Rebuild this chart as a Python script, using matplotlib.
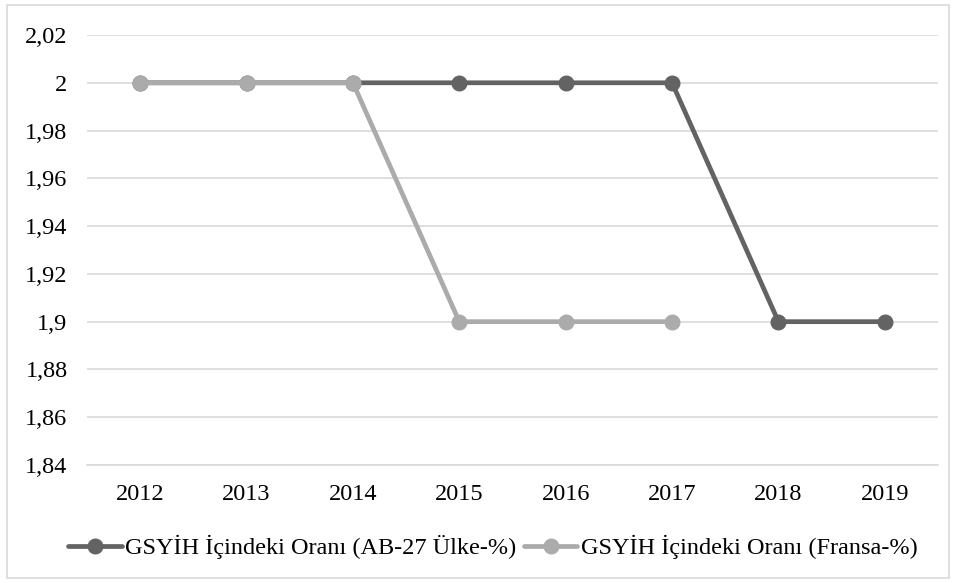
import matplotlib
matplotlib.use("Agg")
import matplotlib.pyplot as plt
from matplotlib.ticker import FuncFormatter, MultipleLocator
from matplotlib.patches import Rectangle

years = ["2012", "2013", "2014", "2015", "2016", "2017", "2018", "2019"]
ab27 = [2, 2, 2, 2, 2, 2, 1.9, 1.9]
fransa = [2, 2, 2, 1.9, 1.9, 1.9]
labels = ["GSYİH İçindeki Oranı (AB-27 Ülke-%)", "GSYİH İçindeki Oranı (Fransa-%)"]

plt.rcParams["font.family"] = ["Liberation Serif", "DejaVu Serif"]

fig = plt.figure(figsize=(9.56, 5.83), dpi=100)
ax = fig.add_axes([87 / 956, (583 - 465) / 583, (938 - 87) / 956, (465 - 35) / 583])

x = list(range(len(years)))
ax.plot(x, ab27, color="#636363", lw=3.4, marker="o", ms=10.5, label=labels[0],
        solid_capstyle="round", zorder=3)
ax.plot(x[:len(fransa)], fransa, color="#ababab", lw=3.4, marker="o", ms=10.5, label=labels[1],
        solid_capstyle="round", zorder=4)

ax.set_xlim(-0.5, len(years) - 0.5)
ax.set_ylim(1.84, 2.02)
ax.yaxis.set_major_locator(MultipleLocator(0.02))
ax.yaxis.set_major_formatter(FuncFormatter(lambda v, p: f"{round(v, 2):g}".replace(".", ",")))
ax.set_xticks(x)
ax.set_xticklabels(years)
ax.grid(axis="y", color="#d9d9d9", lw=1.2)
ax.set_axisbelow(True)
for s in ["top", "right", "left"]:
    ax.spines[s].set_visible(False)
ax.spines["bottom"].set_color("#d9d9d9")
ax.spines["bottom"].set_linewidth(1.2)
ax.tick_params(length=0, labelsize=17.5, colors="#000000")
ax.tick_params(axis="x", pad=14)
ax.tick_params(axis="y", pad=14)

fig.legend(loc="center", bbox_to_anchor=(493 / 956, 1 - 547 / 583), ncol=2, frameon=False,
           fontsize=17.5, handlelength=2.2, handletextpad=0.15, columnspacing=0.3)

fig.patches.append(Rectangle((7 / 956, 5 / 583), 942 / 956, 573 / 583, transform=fig.transFigure,
                             fill=False, edgecolor="#d9d9d9", lw=1.2))

fig.savefig("out.png", dpi=100)
